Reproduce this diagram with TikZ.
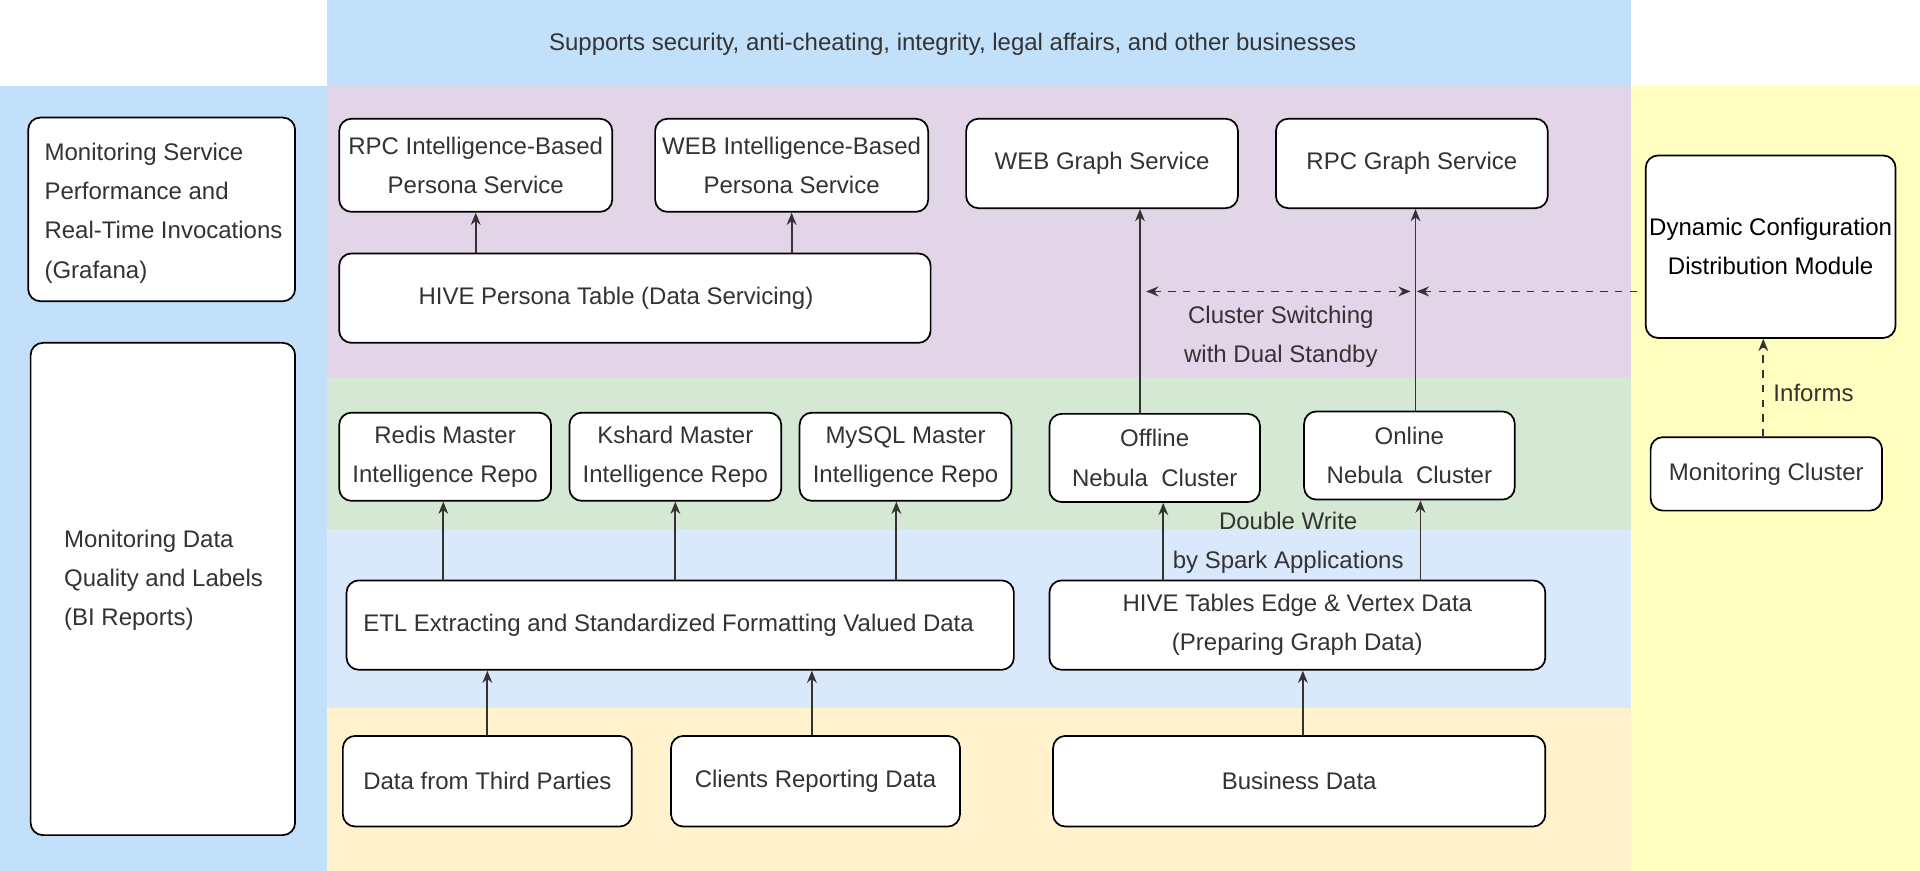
\documentclass[tikz,border=0pt]{standalone}
\usepackage{fontspec}
\setmainfont{Liberation Sans}
\usetikzlibrary{arrows.meta}
\definecolor{txt}{HTML}{333333}
\definecolor{topb}{HTML}{C2E0FA}
\definecolor{purp}{HTML}{E1D5E7}
\definecolor{grn}{HTML}{D5E8D4}
\definecolor{blu}{HTML}{DAE8FC}
\definecolor{org}{HTML}{FFF2CC}
\definecolor{yel}{HTML}{FFFFC0}
\newcommand{\mybox}[6]{%
  \node[box,minimum width={(#4-#2)*0.5pt},minimum height={(#5-#3)*0.5pt}] (#1) at ({(#2+#4)/2},{(#3+#5)/2}) {#6};}
\begin{document}
\begin{tikzpicture}[x=0.5pt,y=-0.5pt,
  box/.style={draw=black,fill=white,rounded corners=5pt,line width=0.7pt,inner sep=0pt,align=center,text=txt,font=\fontsize{9.8pt}{16pt}\selectfont},
  lab/.style={text=txt,align=center,inner sep=0pt,font=\fontsize{9.8pt}{16pt}\selectfont},
  arr/.style={-{Stealth[length=5pt,width=4pt]},line width=0.7pt,draw=txt},
  darr/.style={arr,dashed}]
\useasboundingbox (0,0) rectangle (1568,711);
\fill[topb] (267,0) rectangle (1332,70);
\fill[topb] (0,70) rectangle (267,711);
\fill[purp] (267,70) rectangle (1332,308);
\fill[grn] (267,308) rectangle (1332,432);
\fill[blu] (267,432) rectangle (1332,578);
\fill[org] (267,578) rectangle (1332,711);
\fill[yel] (1332,70) rectangle (1568,711);
\node[lab] (title) at (778,36) {Supports security, anti-cheating, integrity, legal affairs, and other businesses};
\mybox{graf}{23}{96}{241}{246}{}
\node[lab,align=left,anchor=west] (graft) at (36,174) {Monitoring Service\\Performance and\\Real-Time Invocations\\(Grafana)};
\mybox{bi}{25}{280}{241}{682}{}
\node[lab,align=left,anchor=west] (bit) at (52,474) {Monitoring Data\\Quality and Labels\\(BI Reports)};
\mybox{rpci}{277}{97}{500}{173}{RPC Intelligence-Based\\Persona Service}
\mybox{webi}{535}{97}{758}{173}{WEB Intelligence-Based\\Persona Service}
\mybox{hivep}{277}{207}{760}{280}{}
\node[lab] (hivept) at (503,244) {HIVE Persona Table (Data Servicing)};
\mybox{webg}{789}{97}{1011}{170}{WEB Graph Service}
\mybox{rpcg}{1042}{97}{1264}{170}{RPC Graph Service}
\mybox{dyn}{1344}{127}{1548}{276}{\color{black}Dynamic Configuration\\\color{black}Distribution Module}
\mybox{mon}{1348}{357}{1537}{417}{Monitoring Cluster}
\mybox{redis}{277}{337}{450}{409}{Redis Master\\Intelligence Repo}
\mybox{kshard}{465}{337}{638}{409}{Kshard Master\\Intelligence Repo}
\mybox{mysql}{653}{337}{826}{409}{MySQL Master\\Intelligence Repo}
\mybox{off}{857}{338}{1029}{410}{Offline\\Nebula\ \ Cluster}
\mybox{on}{1065}{336}{1237}{408}{Online\\Nebula\ \ Cluster}
\mybox{etl}{283}{474}{828}{547}{}
\node[lab] (etlt) at (546,511) {ETL Extracting and Standardized Formatting Valued Data};
\mybox{hivet}{857}{474}{1262}{547}{HIVE Tables Edge \& Vertex Data\\(Preparing Graph Data)}
\mybox{third}{280}{601}{516}{675}{Data from Third Parties}
\mybox{cli}{548}{601}{784}{675}{Clients Reporting Data}
\mybox{bus}{860}{601}{1262}{675}{Business Data}
\draw[arr] (hivep.north -| rpci) -- (rpci.south);
\draw[arr] (hivep.north -| webi) -- (webi.south);
\draw[arr] (off.north -| 931,0) -- (webg.south -| 931,0);
\draw[arr] (on.north -| 1156,0) -- (rpcg.south -| 1156,0);
\draw[arr] (etl.north -| 362,0) -- (redis.south -| 362,0);
\draw[arr] (etl.north -| kshard) -- (kshard.south);
\draw[arr] (etl.north -| 732,0) -- (mysql.south -| 732,0);
\draw[arr] (hivet.north -| 950,0) -- (off.south -| 950,0);
\draw[arr] (hivet.north -| 1160,0) -- (on.south -| 1160,0);
\draw[arr] (third.north -| 398,0) -- (etl.south -| 398,0);
\draw[arr] (cli.north -| 663,0) -- (etl.south -| 663,0);
\draw[arr] (bus.north -| 1064,0) -- (hivet.south -| 1064,0);
\coordinate (cs1) at (936,238);
\coordinate (cs2) at (1152,238);
\coordinate (cs3) at (1157,238);
\draw[darr,{Stealth[length=5pt,width=4pt]}-{Stealth[length=5pt,width=4pt]}] (cs1) -- (cs2);
\draw[darr] (1337,238) -- (cs3);
\draw[darr] (mon.north -| 1440,0) -- (dyn.south -| 1440,0);
\node[lab] (inf) at (1481,321) {Informs};
\node[lab] (csw) at (1046,275) {Cluster Switching\\with Dual Standby};
\node[lab] (dw) at (1052,443) {Double Write\\by Spark Applications};
\end{tikzpicture}
\end{document}
